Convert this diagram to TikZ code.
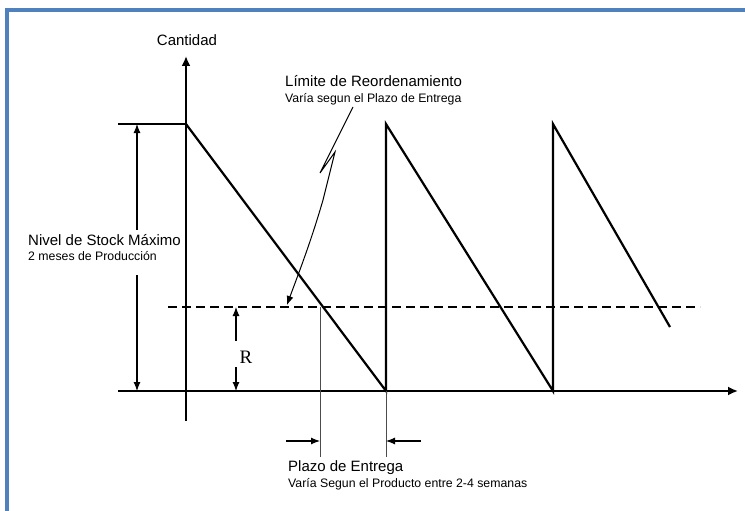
\documentclass[tikz,border=0pt]{standalone}
\usepackage{fontspec}
\setmainfont{Liberation Sans}
\newfontfamily\rmserif{Liberation Serif}
\usetikzlibrary{arrows.meta}
\definecolor{frameblue}{RGB}{79,129,189}
\tikzset{
  bigtxt/.style={anchor=west,inner sep=0pt,font=\fontsize{15}{17}\selectfont},
  smalltxt/.style={anchor=west,inner sep=0pt,font=\fontsize{12.3}{14}\selectfont},
  tip/.style={-{Latex[length=9pt,width=7pt]}},
  axistip/.style={-{Latex[length=10pt,width=9pt]}},
}
\begin{document}
\begin{tikzpicture}[x=1pt,y=-1pt]
  \useasboundingbox (0,0) rectangle (745,511);
  % frame
  \draw[line width=4pt,frameblue] (7,511) -- (7,10) -- (745,10);
  % axes
  \draw[line width=2.6pt,axistip] (186,421) -- (186,56);
  \node[inner sep=0pt,font=\fontsize{15}{17}\selectfont] (cantidad) at (187,40) {Cantidad};
  \draw[line width=1.8pt,axistip] (118,391) -- (738,391);
  \draw[line width=1.5pt] (118,124) -- (186,124);
  % stock curve
  \draw[line width=2.2pt] (186,124) -- (386,391) -- (386,124) -- (553,391) -- (553,124) -- (670,327);
  \draw[line width=1.2pt,dash pattern=on 9pt off 5pt] (168,307) -- (700,307);
  % nivel maximo
  \node[bigtxt] (nivel) at (28,240) {Nivel de Stock Máximo};
  \node[smalltxt] (prod) at (28,256) {2 meses de Producción};
  \draw[line width=1.1pt,tip] (137,230) -- (137,124);
  \draw[line width=1.1pt,tip] (137,275) -- (137,391);
  % R
  \node[inner sep=0pt,font=\rmserif\fontsize{19}{21}\selectfont] (r) at (246,357) {R};
  \draw[line width=1.1pt,tip] (236,341) -- (236,307);
  \draw[line width=1.1pt,tip] (236,367) -- (236,391);
  % limite
  \node[bigtxt] (limite) at (285,81) {Límite de Reordenamiento};
  \node[smalltxt] (limsub) at (285,99) {Varía segun el Plazo de Entrega};
  \draw[line width=1pt,tip] (353,107) -- (320,173) -- (335,152) -- (323,200)
    .. controls (310,245) and (296,280) .. (287,305);
  % plazo
  \draw[line width=1pt,black!70] (320,307) -- (320,457);
  \draw[line width=1pt,black!70] (386,391) -- (386,457);
  \draw[line width=1.1pt,tip] (286,441) -- (320,441);
  \draw[line width=1.1pt,tip] (421,441) -- (386,441);
  \node[bigtxt] (plazo) at (288,468) {Plazo de Entrega};
  \node[smalltxt] (plazosub) at (288,484) {Varía Segun el Producto entre 2-4 semanas};
\end{tikzpicture}
\end{document}
